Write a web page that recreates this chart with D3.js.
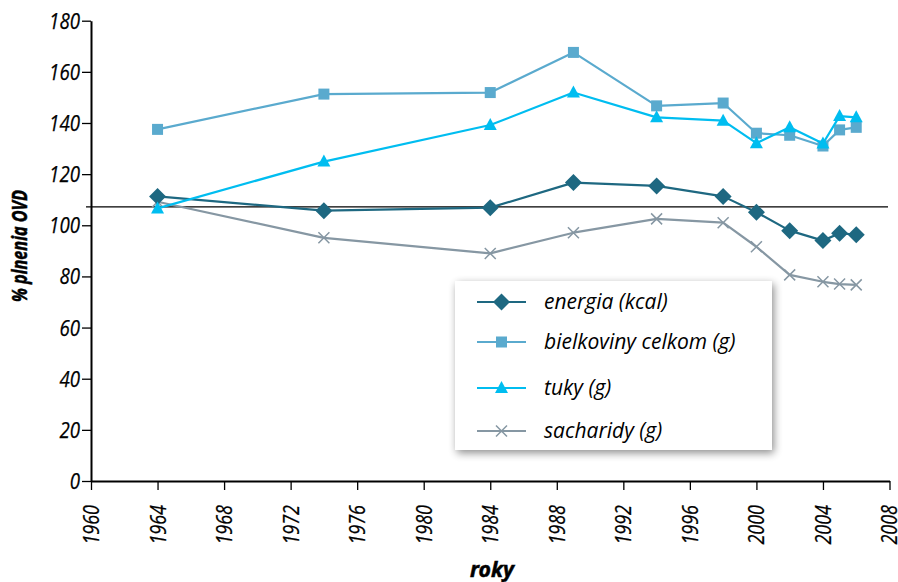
<!DOCTYPE html>
<html>
<head>
<meta charset="utf-8">
<script src="https://cdn.jsdelivr.net/npm/d3@7/dist/d3.min.js"></script>
<style>
  html, body { margin: 0; padding: 0; background: #fff; }
  svg { display: block; }
  text { font-family: "Open Sans", "Noto Sans", sans-serif; font-style: italic; fill: #000; }
  .title { font-family: "Noto Sans", "DejaVu Sans", sans-serif; font-weight: 700; font-style: italic; }
</style>
</head>
<body>
<svg id="chart" width="898" height="582"></svg>
<script>
// Survey years
const years = [1964, 1974, 1984, 1989, 1994, 1998, 2000, 2002, 2004, 2005, 2006];

// % of recommended intake (OVD) per nutrient
const energia    = [111.3, 105.7, 106.9, 116.7, 115.4, 111.3, 105.1, 97.9, 94.0, 96.9, 96.3];
const bielkoviny = [137.5, 151.3, 151.9, 167.6, 146.7, 147.8, 136.0, 135.2, 131.0, 137.3, 138.3];
const tuky       = [106.6, 124.9, 139.2, 151.9, 142.2, 140.9, 132.1, 138.3, 132.0, 142.7, 142.2];
const sacharidy  = [109.2, 95.1, 89.0, 97.1, 102.5, 101.0, 91.6, 80.6, 77.9, 77.0, 76.7];

const seriesNames = ["energia (kcal)", "bielkoviny celkom (g)", "tuky (g)", "sacharidy (g)"];
const xTicks = [1960, 1964, 1968, 1972, 1976, 1980, 1984, 1988, 1992, 1996, 2000, 2004, 2008];
const yTicks = [0, 20, 40, 60, 80, 100, 120, 140, 160, 180];
const referenceLevel = 107.2;

const xTitle = "roky";
const yTitle = "% plnenia OVD";

const svg = d3.select("#chart");

const x = d3.scaleLinear().domain([1960, 2008]).range([91, 889.5]);
const y = d3.scaleLinear().domain([0, 180]).range([481, 20.7]);

// Series definitions: colour and marker type
const series = [
  { name: seriesNames[0], values: energia,    color: "#1e6881", marker: "diamond" },
  { name: seriesNames[1], values: bielkoviny, color: "#5aaace", marker: "square" },
  { name: seriesNames[2], values: tuky,       color: "#00bdf0", marker: "triangle" },
  { name: seriesNames[3], values: sacharidy,  color: "#8697a3", marker: "cross" }
];

// Reference line
svg.append("line")
  .attr("x1", 86).attr("x2", 888)
  .attr("y1", y(referenceLevel)).attr("y2", y(referenceLevel))
  .attr("stroke", "#000").attr("stroke-width", 1.3);

// Marker drawing helper
function drawMarker(g, type, cx, cy, color) {
  if (type === "diamond") {
    const r = 8.5;
    g.append("path")
      .attr("d", `M${cx},${cy - r}L${cx + r},${cy}L${cx},${cy + r}L${cx - r},${cy}Z`)
      .attr("fill", color);
  } else if (type === "square") {
    g.append("rect")
      .attr("x", cx - 5.5).attr("y", cy - 5.5)
      .attr("width", 11).attr("height", 11)
      .attr("fill", color);
  } else if (type === "triangle") {
    g.append("path")
      .attr("d", `M${cx},${cy - 7}L${cx + 6.5},${cy + 5}L${cx - 6.5},${cy + 5}Z`)
      .attr("fill", color);
  } else if (type === "cross") {
    const s = 5.5;
    g.append("path")
      .attr("d", `M${cx - s},${cy - s}L${cx + s},${cy + s}M${cx - s},${cy + s}L${cx + s},${cy - s}`)
      .attr("stroke", color).attr("stroke-width", 1.5).attr("fill", "none");
  }
}

const line = d3.line().x((d, i) => x(years[i])).y(d => y(d));

// Draw order: carbohydrates beneath, then energy, proteins, fats
const drawOrder = [3, 0, 1, 2];
drawOrder.forEach(k => {
  const s = series[k];
  const g = svg.append("g");
  g.append("path")
    .datum(s.values)
    .attr("d", line)
    .attr("fill", "none")
    .attr("stroke", s.color)
    .attr("stroke-width", 2.2)
    .attr("stroke-linejoin", "round");
  s.values.forEach((v, i) => drawMarker(g, s.marker, x(years[i]), y(v), s.color));
});

// Condensed look for axis labels: squeeze glyphs to a per-character width
function condense(sel, perChar) {
  sel.each(function () {
    const t = d3.select(this);
    t.attr("textLength", t.text().length * perChar).attr("lengthAdjust", "spacingAndGlyphs");
  });
}

// Axes
const xAxis = svg.append("g")
  .attr("transform", `translate(0,${y(0)})`)
  .call(d3.axisBottom(x).tickValues(xTicks).tickSize(9).tickSizeOuter(0).tickFormat(d3.format("d")));
xAxis.select(".domain").attr("stroke", "#000").attr("stroke-width", 2);
xAxis.selectAll(".tick line").attr("stroke", "#000").attr("stroke-width", 1.3);
xAxis.selectAll(".tick text")
  .attr("font-size", 22)
  .attr("font-family", null)
  .attr("text-anchor", "end")
  .attr("transform", "rotate(-90)")
  .attr("x", -24)
  .attr("y", 0)
  .attr("dy", "0.34em")
  .call(condense, 9.9);

const yAxis = svg.append("g")
  .attr("transform", `translate(${x(1960)},0)`)
  .call(d3.axisLeft(y).tickValues(yTicks).tickSize(9).tickSizeOuter(0));
yAxis.select(".domain").attr("stroke", "#000").attr("stroke-width", 2);
yAxis.selectAll(".tick line").attr("stroke", "#000").attr("stroke-width", 1.3);
yAxis.selectAll(".tick text")
  .attr("font-size", 22)
  .attr("font-family", null)
  .attr("x", -11)
  .attr("dy", "0.34em")
  .call(condense, 10.3);
svg.selectAll(".tick text")
  .style("font-style", "italic")
  .attr("fill", "#000")
  .attr("stroke", "#000")
  .attr("stroke-width", 0.25);

// Axis titles
svg.append("text")
  .attr("class", "title")
  .attr("x", 492).attr("y", 577)
  .attr("text-anchor", "middle")
  .attr("font-size", 21)
  .attr("stroke", "#000").attr("stroke-width", 0.5)
  .attr("textLength", 44).attr("lengthAdjust", "spacingAndGlyphs")
  .text(xTitle);

svg.append("text")
  .attr("class", "title")
  .attr("transform", "translate(27,246) rotate(-90)")
  .attr("text-anchor", "middle")
  .attr("font-size", 21)
  .attr("stroke", "#000").attr("stroke-width", 0.5)
  .attr("textLength", 112).attr("lengthAdjust", "spacingAndGlyphs")
  .text(yTitle);

// Legend with soft shadow
const defs = svg.append("defs");
const f = defs.append("filter").attr("id", "shadow").attr("x", "-10%").attr("y", "-10%").attr("width", "125%").attr("height", "130%");
f.append("feGaussianBlur").attr("in", "SourceAlpha").attr("stdDeviation", 4);
f.append("feOffset").attr("dx", 2).attr("dy", 3).attr("result", "blur");
f.append("feComponentTransfer").append("feFuncA").attr("type", "linear").attr("slope", 0.45);
const m = f.append("feMerge");
m.append("feMergeNode");
m.append("feMergeNode").attr("in", "SourceGraphic");

const legend = svg.append("g");
legend.append("rect")
  .attr("x", 455).attr("y", 281)
  .attr("width", 317).attr("height", 169)
  .attr("fill", "#fff")
  .attr("filter", "url(#shadow)");

const legendRows = [302, 342, 388, 431];
series.forEach((s, i) => {
  const ly = legendRows[i];
  const g = legend.append("g");
  g.append("line")
    .attr("x1", 477).attr("x2", 526)
    .attr("y1", ly).attr("y2", ly)
    .attr("stroke", s.color).attr("stroke-width", 2.2);
  drawMarker(g, s.marker, 501.5, ly, s.color);
  g.append("text")
    .attr("x", 544).attr("y", ly)
    .attr("dy", "0.33em")
    .attr("font-size", 21)
    .text(s.name);
});
</script>
</body>
</html>
